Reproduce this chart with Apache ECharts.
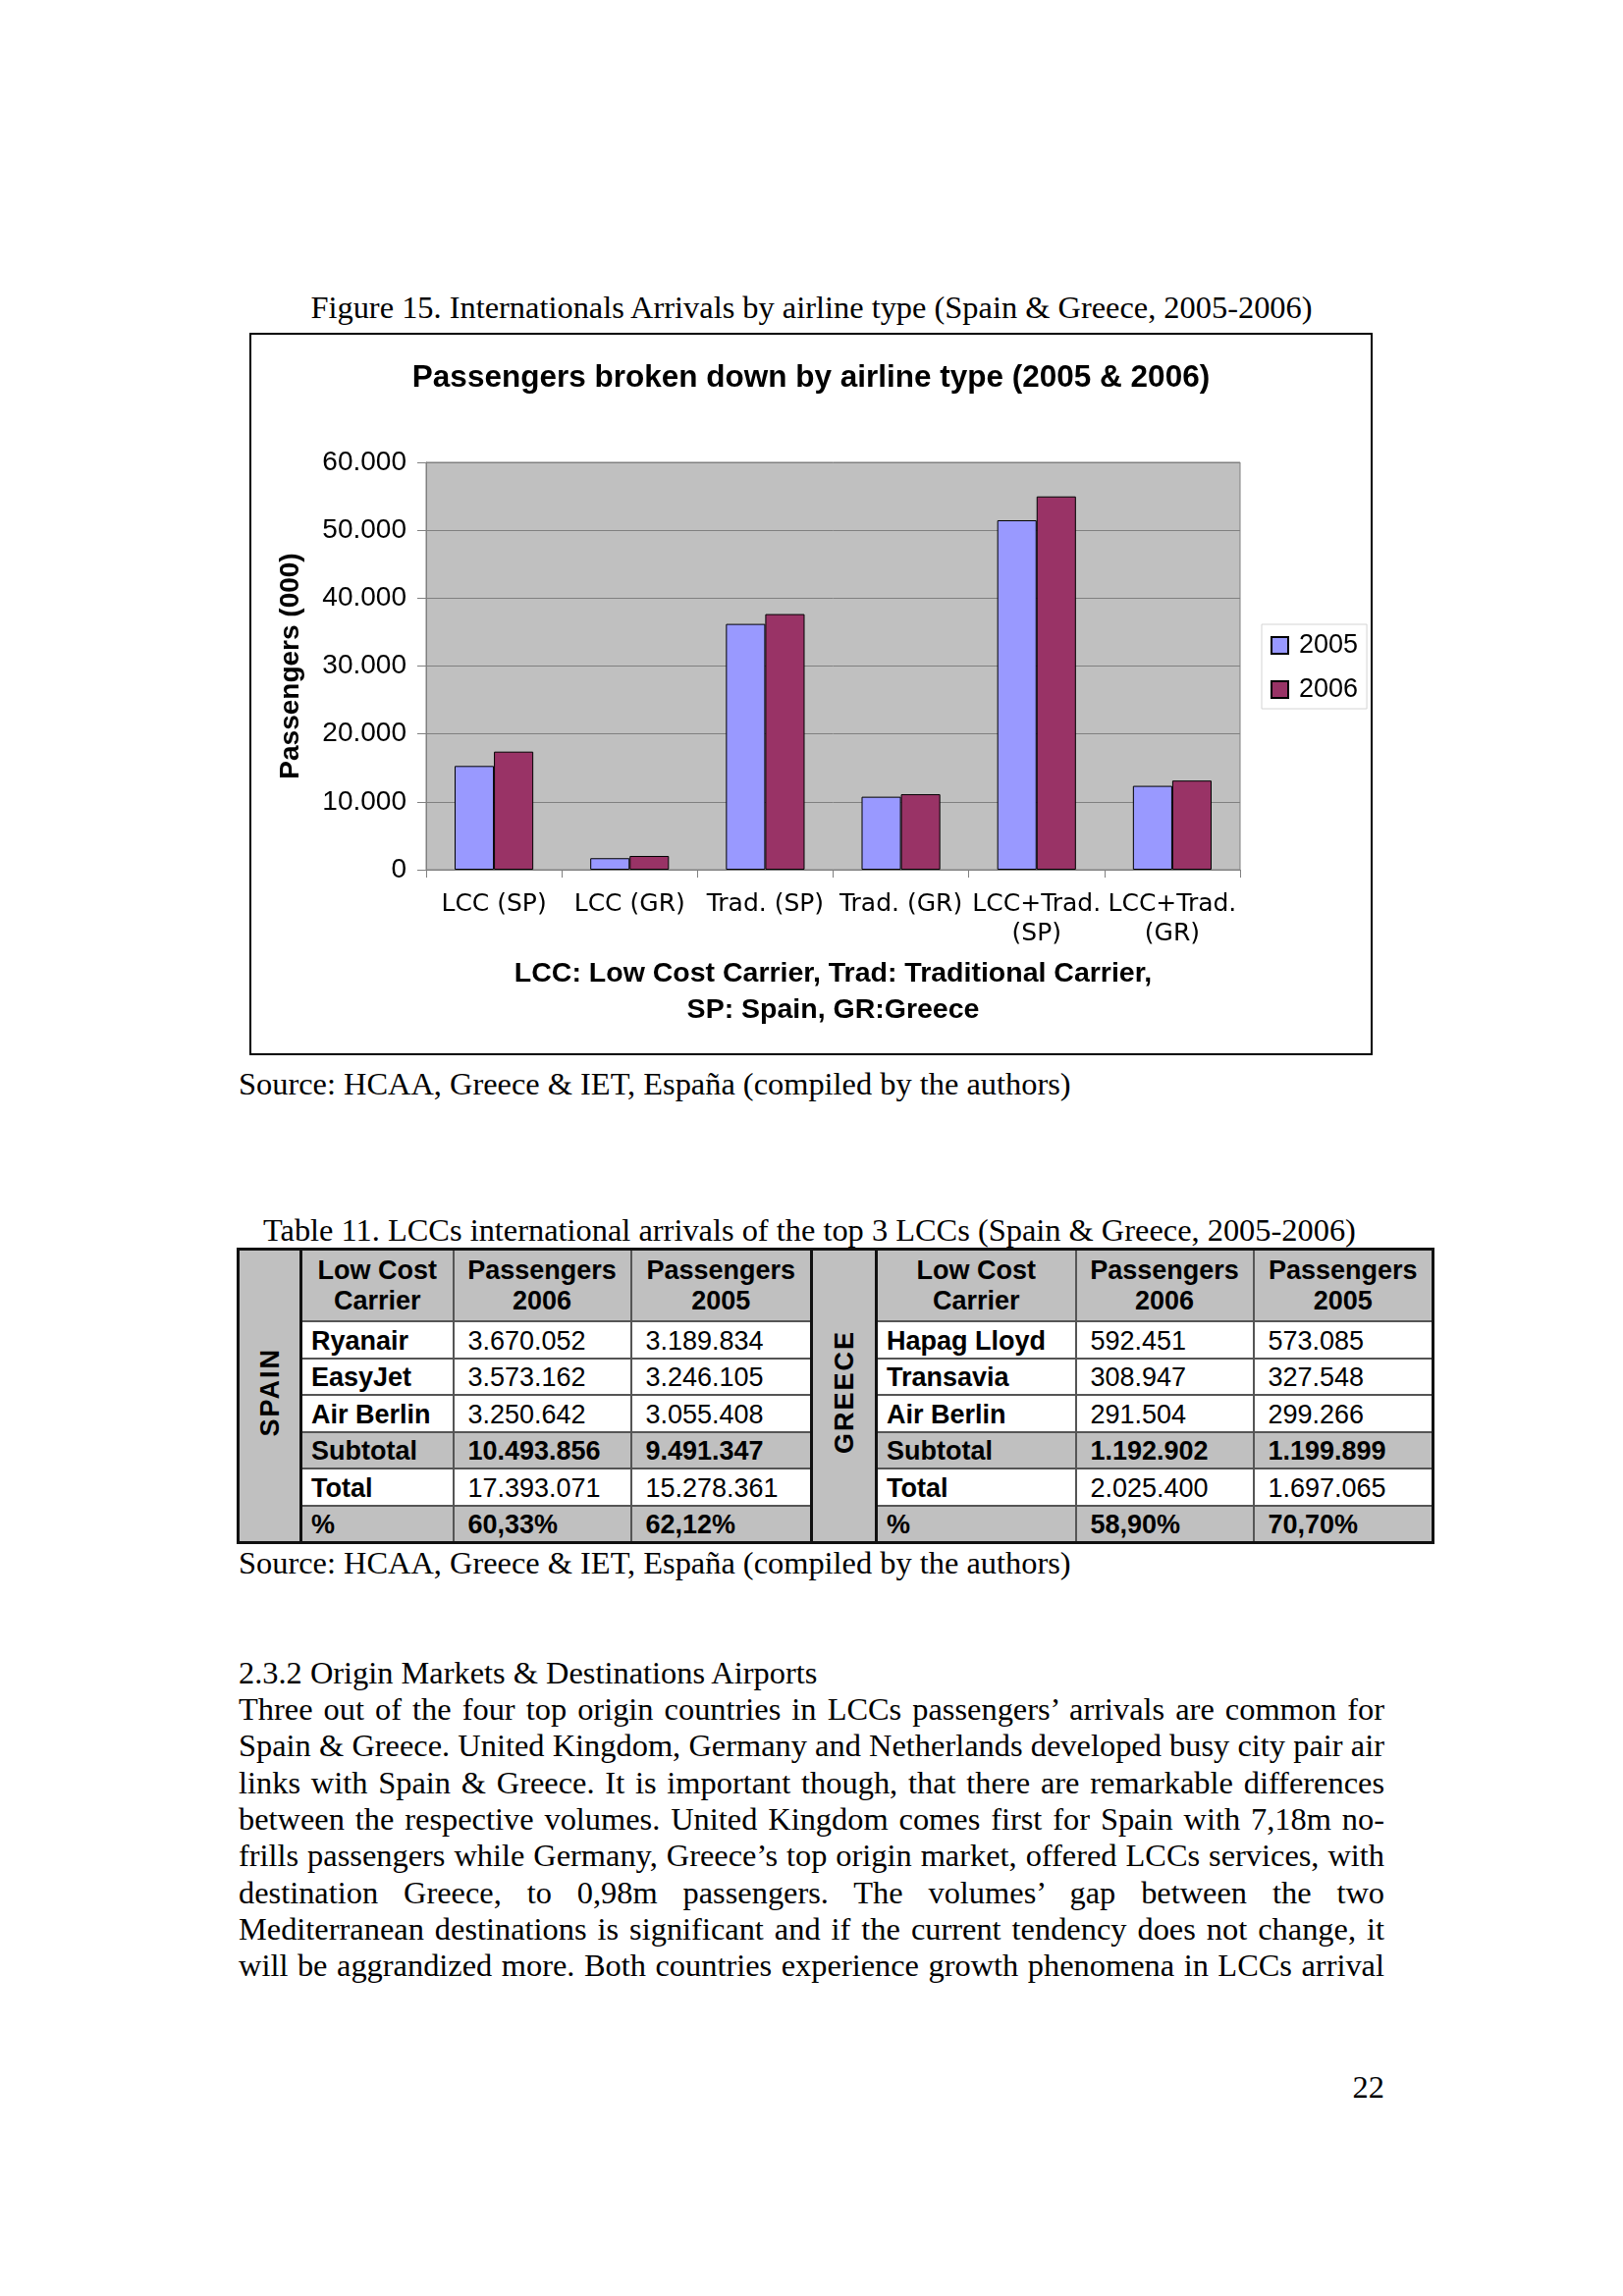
<!DOCTYPE html>
<html>
<head>
<meta charset="utf-8">
<script src="https://cdn.jsdelivr.net/npm/echarts@6/dist/echarts.min.js"></script>
<style>
  html, body { margin:0; padding:0; background:#fff; }
  #page { position:relative; width:1653px; height:2339px; background:#fff; overflow:hidden;
          font-family:"Liberation Serif","Times New Roman",serif; color:#000; }
  .serif { position:absolute; font-family:"Liberation Serif","Times New Roman",serif; font-size:32.4px; line-height:37px; white-space:nowrap; }
  #frame { position:absolute; left:254px; top:339px; width:1144px; height:736px; border:2px solid #000; box-sizing:border-box; }
  #chart { width:1140px; height:732px; }
  #tbl { position:absolute; left:241px; top:1271px; width:1217px; border-collapse:collapse; table-layout:fixed;
         font-family:"Liberation Sans",Arial,sans-serif; font-size:27px; border:3px solid #111; }
  #tbl td { border:2px solid #555; padding:3px 0 0 14px; height:32.5px; line-height:31px; white-space:nowrap; overflow:hidden; }
  #tbl td.n { padding-left:9px; }
  #tbl td.h { background:#C0C0C0; font-weight:bold; text-align:center; padding:0; height:71px; }
  #tbl td.g { background:#C0C0C0; }
  #tbl td.b { font-weight:bold; }
  #tbl td.c { background:#C0C0C0; padding:0; text-align:center; vertical-align:middle; border:3px solid #111; }
  .vt { display:inline-block; writing-mode:vertical-rl; transform:rotate(180deg); font-weight:bold; font-size:27px; letter-spacing:2px; line-height:30px; }
  .line { position:absolute; left:243px; width:1167px; text-align:justify; text-align-last:justify; font-size:32.4px; line-height:37px; white-space:nowrap; }
</style>
</head>
<body>
<div id="page">
  <div class="serif" id="figcap" style="left:0;width:1653px;text-align:center;top:295px;"></div>
  <div id="frame"><div id="chart"></div></div>
  <div class="serif" id="src1" style="left:243px;top:1086px;"></div>
  <div class="serif" id="tabcap" style="left:268px;top:1235px;"></div>
  <table id="tbl"></table>
  <div class="serif" id="src2" style="left:243px;top:1574px;"></div>
  <div id="textblock"></div>
  <div class="serif" style="left:1370px;top:2108px;width:40px;text-align:right;">22</div>
</div>
<script>
// ---------- chart data ----------
const categories = ['LCC (SP)', 'LCC (GR)', 'Trad. (SP)', 'Trad. (GR)', 'LCC+Trad.\n(SP)', 'LCC+Trad.\n(GR)'];
const seriesNames = ['2005', '2006'];
const values2005 = [15278, 1697, 36200, 10750, 51470, 12350];
const values2006 = [17393, 2025, 37650, 11120, 54980, 13130];
const yTickLabels = ['0', '10.000', '20.000', '30.000', '40.000', '50.000', '60.000'];

// ---------- table data ----------
const tableHeader = ['Low Cost\nCarrier', 'Passengers\n2006', 'Passengers\n2005'];
const spainCarriers = ['Ryanair', 'EasyJet', 'Air Berlin', 'Subtotal', 'Total', '%'];
const spain2006 = ['3.670.052', '3.573.162', '3.250.642', '10.493.856', '17.393.071', '60,33%'];
const spain2005 = ['3.189.834', '3.246.105', '3.055.408', '9.491.347', '15.278.361', '62,12%'];
const greeceCarriers = ['Hapag Lloyd', 'Transavia', 'Air Berlin', 'Subtotal', 'Total', '%'];
const greece2006 = ['592.451', '308.947', '291.504', '1.192.902', '2.025.400', '58,90%'];
const greece2005 = ['573.085', '327.548', '299.266', '1.199.899', '1.697.065', '70,70%'];

// ---------- texts ----------
const figureCaption = 'Figure 15. Internationals Arrivals by airline type (Spain & Greece, 2005-2006)';
const sourceText = 'Source: HCAA, Greece & IET, España (compiled by the authors)';
const tableCaption = 'Table 11. LCCs international arrivals of the top 3 LCCs (Spain & Greece, 2005-2006)';
const heading = '2.3.2 Origin Markets & Destinations Airports';
const paragraphLines = [
  'Three out of the four top origin countries in LCCs passengers\u2019 arrivals are common for',
  'Spain & Greece. United Kingdom, Germany and Netherlands developed busy city pair air',
  'links with Spain & Greece. It is important though, that there are remarkable differences',
  'between the respective volumes. United Kingdom comes first for Spain with 7,18m no-',
  'frills passengers while Germany, Greece\u2019s top origin market, offered LCCs services, with',
  'destination Greece, to 0,98m passengers. The volumes\u2019 gap between the two',
  'Mediterranean destinations is significant and if the current tendency does not change, it',
  'will be aggrandized more. Both countries experience growth phenomena in LCCs arrival'
];

document.getElementById('figcap').textContent = figureCaption;
document.getElementById('src1').textContent = sourceText;
document.getElementById('src2').textContent = sourceText;
document.getElementById('tabcap').textContent = tableCaption;

// text block
const tb = document.getElementById('textblock');
const h = document.createElement('div');
h.className = 'serif'; h.style.left = '243px'; h.style.top = '1686px'; h.textContent = heading;
tb.appendChild(h);
paragraphLines.forEach((t, i) => {
  const d = document.createElement('div');
  d.className = 'line';
  d.style.top = (1723 + i * 37.3) + 'px';
  d.textContent = t;
  tb.appendChild(d);
});

// table
const colW = [64, 155, 181, 184, 66, 203, 181, 183];
const tbl = document.getElementById('tbl');
let html = '<colgroup>' + colW.map(w => '<col style="width:' + w + 'px">').join('') + '</colgroup>';
function esc(s){ return s.replace(/&/g,'&amp;').replace(/</g,'&lt;').replace(/\n/g,'<br>'); }
html += '<tr><td class="c" rowspan="7"><span class="vt">SPAIN</span></td>';
tableHeader.forEach(t => html += '<td class="h">' + esc(t) + '</td>');
html += '<td class="c" rowspan="7"><span class="vt">GREECE</span></td>';
tableHeader.forEach(t => html += '<td class="h">' + esc(t) + '</td>');
html += '</tr>';
for (let i = 0; i < spainCarriers.length; i++) {
  const gray = (i === 3 || i === 5);
  const cls0 = 'n b' + (gray ? ' g' : '');
  const clsV = (gray ? 'b g' : '');
  html += '<tr>';
  html += '<td class="' + cls0 + '">' + esc(spainCarriers[i]) + '</td>';
  html += '<td class="' + clsV + '">' + spain2006[i] + '</td>';
  html += '<td class="' + clsV + '">' + spain2005[i] + '</td>';
  html += '<td class="' + cls0 + '">' + esc(greeceCarriers[i]) + '</td>';
  html += '<td class="' + clsV + '">' + greece2006[i] + '</td>';
  html += '<td class="' + clsV + '">' + greece2005[i] + '</td>';
  html += '</tr>';
}
tbl.innerHTML = html;

// chart
const chart = echarts.init(document.getElementById('chart'), null, { renderer: 'canvas' });
const sans = '"Liberation Sans", Arial, sans-serif';
chart.setOption({
  animation: false,
  backgroundColor: '#fff',
  title: {
    text: 'Passengers broken down by airline type (2005 & 2006)',
    left: 'center', top: 23,
    textStyle: { fontFamily: sans, fontSize: 31.5, fontWeight: 'bold', color: '#000' }
  },
  legend: {
    orient: 'vertical', left: 1029, top: 295,
    padding: [8, 9, 6, 9],
    itemWidth: 17, itemHeight: 17, itemGap: 18,
    icon: 'rect',
    borderColor: '#d4d4d4', borderWidth: 1,
    data: seriesNames,
    textStyle: { fontFamily: sans, fontSize: 27, color: '#000', padding: [0, 0, 0, 6] }
  },
  grid: {
    left: 178, top: 130, width: 829, height: 415,
    show: true, backgroundColor: '#C0C0C0', borderColor: '#808080', borderWidth: 1
  },
  xAxis: {
    type: 'category', data: categories,
    axisLine: { show: true, lineStyle: { color: '#808080', width: 1 } },
    axisTick: { show: true, length: 8, lineStyle: { color: '#808080' } },
    axisLabel: { interval: 0, margin: 20, fontFamily: '"DejaVu Sans", Verdana, sans-serif', fontSize: 25, lineHeight: 30, color: '#000' },
    name: 'LCC: Low Cost Carrier, Trad: Traditional Carrier,\nSP: Spain, GR:Greece',
    nameLocation: 'middle', nameGap: 88,
    nameTextStyle: { fontFamily: sans, fontSize: 28.5, fontWeight: 'bold', lineHeight: 37, color: '#000' }
  },
  yAxis: {
    type: 'value', min: 0, max: 60000, interval: 10000,
    axisLine: { show: true, lineStyle: { color: '#808080', width: 1 } },
    axisTick: { show: true, length: 9, lineStyle: { color: '#808080' } },
    splitLine: { show: true, lineStyle: { color: '#808080', width: 1 } },
    axisLabel: { margin: 20, fontFamily: sans, fontSize: 28, color: '#000',
                 formatter: v => yTickLabels[Math.round(v / 10000)] },
    name: 'Passengers (000)', nameLocation: 'middle', nameRotate: 90, nameGap: 124,
    nameTextStyle: { fontFamily: sans, fontSize: 28, fontWeight: 'bold', color: '#000' }
  },
  series: [
    { name: seriesNames[0], type: 'bar', data: values2005, barGap: '0%', barCategoryGap: '42%',
      itemStyle: { color: '#9999FF', borderColor: '#000', borderWidth: 1 } },
    { name: seriesNames[1], type: 'bar', data: values2006, barGap: '0%', barCategoryGap: '42%',
      itemStyle: { color: '#993366', borderColor: '#000', borderWidth: 1 } }
  ]
});
</script>
</body>
</html>
